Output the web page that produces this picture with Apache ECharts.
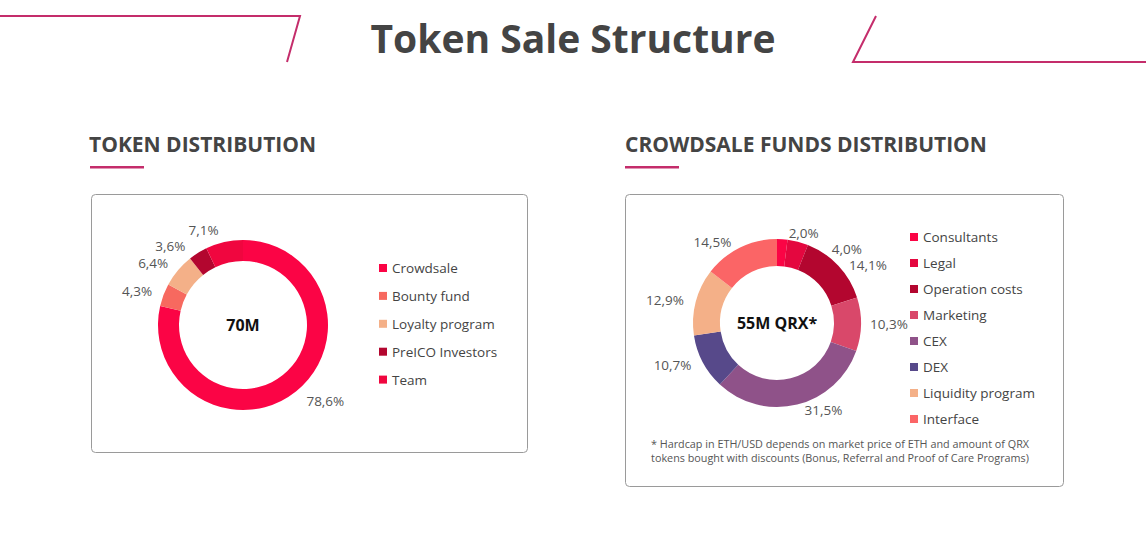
<!DOCTYPE html>
<html>
<head>
<meta charset="utf-8">
<script src="https://cdn.jsdelivr.net/npm/echarts@6/dist/echarts.min.js"></script>
<style>
html,body{margin:0;padding:0;background:#fff;}
#chart{width:1146px;height:547px;}
</style>
</head>
<body>
<div id="chart"></div>
<script>
// ---- data ----
const pageTitle = 'Token Sale Structure';
const tokenTitle = 'TOKEN DISTRIBUTION';
const fundTitle = 'CROWDSALE FUNDS DISTRIBUTION';
const tokenCenterText = '70M';
const fundCenterText = '55M QRX*';
const tokenCategories = ['Crowdsale', 'Bounty fund', 'Loyalty program', 'PreICO Investors', 'Team'];
const tokenValues = [78.6, 4.3, 6.4, 3.6, 7.1];
const fundCategories = ['Consultants', 'Legal', 'Operation costs', 'Marketing', 'CEX', 'DEX', 'Liquidity program', 'Interface'];
const fundValues = [2.0, 4.0, 14.1, 10.3, 31.5, 10.7, 12.9, 14.5];
const footnoteLines = [
  '* Hardcap in ETH/USD depends on market price of ETH and amount of QRX',
  'tokens bought with discounts (Bonus, Referral and Proof of Care Programs)'
];

// ---- styles ----
const tokenColors = ['#fb0445', '#f7695f', '#f4b088', '#b3062f', '#f0063f'];
const fundColors = ['#fb0445', '#e4073f', '#b3062f', '#d9486a', '#8f5289', '#57498a', '#f4b088', '#fb6566'];
const accent = '#c42d6b';
const textFont = '"Open Sans", sans-serif';
const headFont = '"Open Sans", sans-serif';

const fmt = p => p.value.toFixed(1).replace('.', ',') + '%';

const chart = echarts.init(document.getElementById('chart'), null, {renderer: 'svg'});

function pieSeries(name, cats, vals, colors, center, radius, len, len2) {
  return {
    type: 'pie',
    name: name,
    center: center,
    radius: radius,
    startAngle: 90,
    clockwise: true,
    avoidLabelOverlap: true,
    emphasis: {disabled: true},
    itemStyle: {borderWidth: 0},
    label: {
      show: true,
      position: 'outside',
      formatter: fmt,
      color: '#555',
      fontSize: 13.5,
      fontFamily: textFont,
      distanceToLabelLine: 3
    },
    labelLine: {show: false, length: len, length2: len2},
    data: cats.map((c, i) => ({name: c, value: vals[i], itemStyle: {color: colors[i]}}))
  };
}

const legendText = {color: '#444', fontSize: 13.5, fontFamily: textFont, lineHeight: 14};

chart.setOption({
  animation: false,
  title: [
    {text: pageTitle, left: 'center', top: 18, padding: 0,
     textStyle: {fontFamily: headFont, fontWeight: 'bold', fontSize: 39, color: '#444'}},
    {text: tokenTitle, left: 89, top: 133, padding: 0,
     textStyle: {fontFamily: headFont, fontWeight: 'bold', fontSize: 21, color: '#444'}},
    {text: fundTitle, left: 625, top: 133, padding: 0,
     textStyle: {fontFamily: headFont, fontWeight: 'bold', fontSize: 21, color: '#444'}}
  ],
  legend: [
    {data: tokenCategories, orient: 'vertical', left: 379, top: 261, padding: 0,
     icon: 'rect', itemWidth: 8, itemHeight: 8, itemGap: 13.9,
     selectedMode: false, textStyle: legendText},
    {data: fundCategories, orient: 'vertical', left: 910, top: 230, padding: 0,
     icon: 'rect', itemWidth: 8, itemHeight: 8, itemGap: 12,
     selectedMode: false, textStyle: legendText}
  ],
  graphic: [
    {type: 'polyline', shape: {points: [[0, 16], [300, 16], [287, 62]]},
     style: {stroke: accent, lineWidth: 2, fill: null}},
    {type: 'polyline', shape: {points: [[876, 16], [853, 62], [1146, 62]]},
     style: {stroke: accent, lineWidth: 2, fill: null}},
    {type: 'rect', shape: {x: 90, y: 166, width: 54, height: 2.5}, style: {fill: accent}},
    {type: 'rect', shape: {x: 625, y: 166, width: 54, height: 2.5}, style: {fill: accent}},
    {type: 'rect', shape: {x: 91.5, y: 194.5, width: 436, height: 258, r: 4},
     style: {stroke: '#9a9a9a', lineWidth: 1, fill: null}, z: -1},
    {type: 'rect', shape: {x: 625.5, y: 194.5, width: 438, height: 292, r: 4},
     style: {stroke: '#9a9a9a', lineWidth: 1, fill: null}, z: -1},
    {type: 'text', x: 243, y: 325,
     style: {text: tokenCenterText, fontFamily: textFont, fontWeight: 'bold', fontSize: 16, fill: '#111', align: 'center', verticalAlign: 'middle'}},
    {type: 'text', x: 777, y: 323,
     style: {text: fundCenterText, fontFamily: textFont, fontWeight: 'bold', fontSize: 16, fill: '#111', align: 'center', verticalAlign: 'middle'}},
    {type: 'text', x: 840, y: 443,
     style: {text: footnoteLines[0], fontFamily: textFont, fontSize: 10.8, fill: '#555', align: 'center', verticalAlign: 'middle'}},
    {type: 'text', x: 840, y: 457,
     style: {text: footnoteLines[1], fontFamily: textFont, fontSize: 10.8, fill: '#555', align: 'center', verticalAlign: 'middle'}}
  ],
  series: [
    pieSeries('Token distribution', tokenCategories, tokenValues, tokenColors, [243, 325], [64, 85], 12, 0),
    pieSeries('Crowdsale funds distribution', fundCategories, fundValues, fundColors, [777, 323], [57, 84], 6, 3)
  ]
});
</script>
</body>
</html>
